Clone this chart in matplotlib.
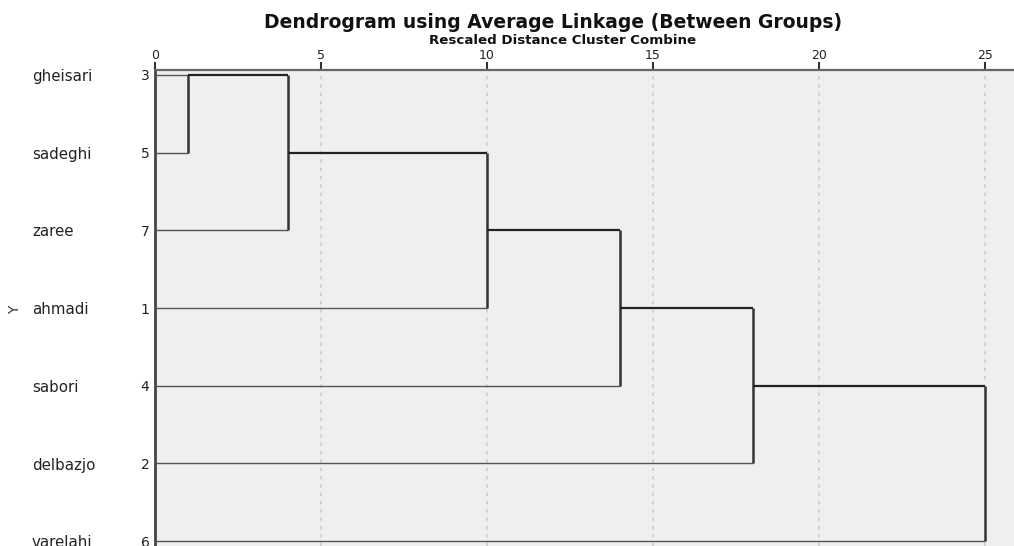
import matplotlib
matplotlib.use("Agg")
import matplotlib.pyplot as plt
from matplotlib.transforms import blended_transform_factory

plt.rcParams['font.family'] = ['DejaVu Sans']

# Datos
leaves = ["gheisari", "sadeghi", "zaree", "ahmadi", "sabori", "delbazjo", "varelahi"]
case_ids = [3, 5, 7, 1, 4, 2, 6]
# uniones: (nodo a, nodo b, distancia reescalada, fila del nuevo nodo)
merge_a = [0, 7, 8, 9, 10, 11]
merge_b = [1, 2, 3, 4, 5, 6]
merge_dist = [1, 4, 10, 14, 18, 25]
merge_row = [0, 1, 2, 3, 4, 5]
x_ticks = [0, 5, 10, 15, 20, 25]

fig = plt.figure(figsize=(10.14, 5.46), dpi=100)
ax = fig.add_axes([155 / 1014, 0.0, 1 - 155 / 1014, 1 - 70 / 546])
ax.set_facecolor("#efefef")

# nodos: fila, x actual
nodes = {i: (i, 0.0) for i in range(len(leaves))}
for k in range(len(merge_dist)):
    a, b, d = merge_a[k], merge_b[k], merge_dist[k]
    for n in (a, b):
        row, x0 = nodes[n]
        leaf = n < len(leaves)
        ax.plot([x0, d], [row, row], color="#555555" if leaf else "#222222",
                lw=1.0 if leaf else 1.6, solid_capstyle="butt", zorder=3)
    ax.plot([d, d], [nodes[a][0], nodes[b][0]], color="#333333", lw=1.8,
            solid_capstyle="butt", zorder=3)
    nodes[len(leaves) + k] = (merge_row[k], d)

ax.set_xlim(0, 25.87)
ax.set_ylim(6.062, -0.064)

ax.xaxis.tick_top()
ax.set_xticks(x_ticks)
ax.set_xticklabels([str(t) for t in x_ticks], fontsize=9, color="#222222")
ax.tick_params(axis="x", length=6, width=1.5, color="#333333", pad=0)
ax.grid(axis="x", color="#cccccc", linestyle=(0, (2, 3)), lw=1.2, zorder=1)

ax.set_yticks(range(len(leaves)))
ax.set_yticklabels([str(c) for c in case_ids], fontsize=10, color="#222222")
ax.tick_params(axis="y", length=0, pad=4)

for s in ["right", "bottom"]:
    ax.spines[s].set_visible(False)
ax.spines["left"].set_color("#444444")
ax.spines["left"].set_linewidth(2.0)
ax.spines["top"].set_color("#666666")
ax.spines["top"].set_linewidth(1.6)

tr = blended_transform_factory(fig.transFigure, ax.transData)
for i, name in enumerate(leaves):
    ax.text(32 / 1014, i + 0.02, name, transform=tr, ha="left", va="center",
            fontsize=10.8, color="#222222", clip_on=False)

fig.text(15 / 1014, 1 - 310 / 546, "Y", rotation=90, ha="center", va="center",
         fontsize=10, color="#333333")

fig.text(553 / 1014, 1 - 22 / 546, "Dendrogram using Average Linkage (Between Groups)",
         ha="center", va="center", fontsize=13.5, fontweight="bold", color="#111111")
fig.text(563 / 1014, 1 - 41 / 546, "Rescaled Distance Cluster Combine",
         ha="center", va="center", fontsize=9.6, fontweight="bold", color="#111111")

fig.savefig("out.png", dpi=100)
